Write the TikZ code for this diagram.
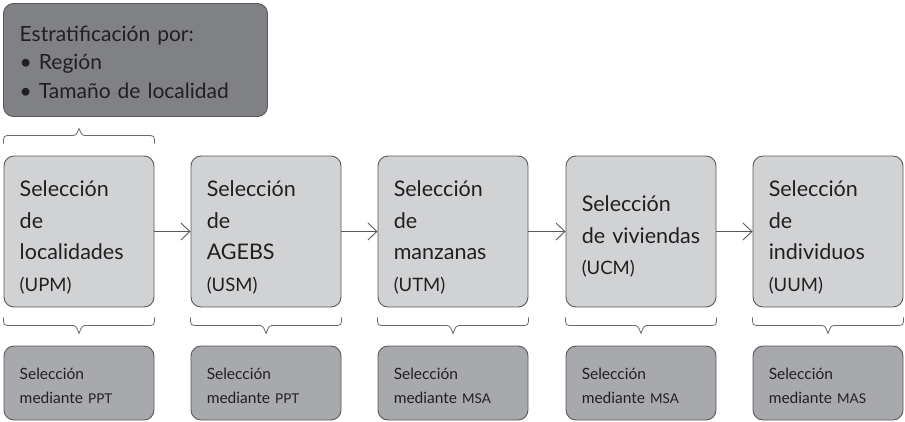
\documentclass[tikz,border=0pt]{standalone}
\usepackage{fontspec}
\setmainfont{Lato}
\usetikzlibrary{arrows.meta,calc}
\definecolor{topfill}{HTML}{808184}
\definecolor{midfill}{HTML}{D1D2D4}
\definecolor{lowfill}{HTML}{A7A9AC}
\definecolor{edge}{HTML}{58595B}
\definecolor{ink}{HTML}{231F20}
\tikzset{
  box/.style={draw=edge, line width=0.9pt, rounded corners=10pt, minimum width=150pt},
  stagebox/.style={box, fill=midfill, minimum height=151pt},
  methodbox/.style={box, fill=lowfill, minimum height=74pt},
  boxtext/.style={text=ink, align=left, inner sep=0pt, text width=132pt, anchor=west},
  stagetext/.style={boxtext, font=\fontsize{21.5}{31.5}\selectfont},
  methodtext/.style={boxtext, font=\fontsize{15.5}{24}\selectfont},
  link/.style={draw=edge, line width=0.9pt, -{Straight Barb[length=9pt,width=17pt,line width=0.9pt]}},
  bracepath/.style={draw=edge!90, line width=0.8pt},
}
\newcommand{\unitsm}[1]{{\fontsize{18.5}{31.5}\selectfont #1}}
\newcommand{\methsm}[1]{{\fontsize{13.5}{24}\selectfont #1}}
\newcommand{\bracedown}[1]{%
  \draw[bracepath] ($(#1.south west)+(0,10)$) .. controls ($(#1.south west)+(0,18)$) .. ($(#1.south west)+(7,18)$)
    -- ($(#1.south)+(-9,18)$) .. controls ($(#1.south)+(-3,18)$) .. ($(#1.south)+(0,26)$)
    .. controls ($(#1.south)+(3,18)$) .. ($(#1.south)+(9,18)$)
    -- ($(#1.south east)+(-7,18)$) .. controls ($(#1.south east)+(0,18)$) .. ($(#1.south east)+(0,10)$);}
\begin{document}
\begin{tikzpicture}[x=1pt,y=-1pt]
\useasboundingbox (0,0) rectangle (905,421);
% top box
\node[box, fill=topfill, minimum width=264pt, minimum height=113pt] (strat) at (135.5,60) {};
\node[boxtext, text width=240pt, font=\fontsize{21}{28.5}\selectfont] (strattext) at ($(strat.west)+(16.5,2)$)
  {Estratificación por:\\ • Región\\ • Tamaño de localidad};
% stage boxes
\node[stagebox] (s1) at (79,231.5) {};
\node[stagebox] (s2) at (266,231.5) {};
\node[stagebox] (s3) at (453,231.5) {};
\node[stagebox] (s4) at (641,231.5) {};
\node[stagebox] (s5) at (828,231.5) {};
\node[stagetext] (t1) at ($(s1.west)+(16,6)$) {Selección\\ de\\ localidades\\ \unitsm{(UPM)}};
\node[stagetext] (t2) at ($(s2.west)+(16,6)$) {Selección\\ de\\ AGEBS\\ \unitsm{(USM)}};
\node[stagetext] (t3) at ($(s3.west)+(16,6)$) {Selección\\ de\\ manzanas\\ \unitsm{(UTM)}};
\node[stagetext] (t4) at ($(s4.west)+(16,5)$) {Selección\\ de viviendas\\ \unitsm{(UCM)}};
\node[stagetext] (t5) at ($(s5.west)+(16,6)$) {Selección\\ de\\ individuos\\ \unitsm{(UUM)}};
% method boxes
\node[methodbox] (m1) at (79,383) {};
\node[methodbox] (m2) at (266,383) {};
\node[methodbox] (m3) at (453,383) {};
\node[methodbox] (m4) at (641,383) {};
\node[methodbox] (m5) at (828,383) {};
\node[methodtext] (u1) at ($(m1.west)+(16,3)$) {Selección\\ mediante \methsm{PPT}};
\node[methodtext] (u2) at ($(m2.west)+(16,3)$) {Selección\\ mediante \methsm{PPT}};
\node[methodtext] (u3) at ($(m3.west)+(16,3)$) {Selección\\ mediante \methsm{MSA}};
\node[methodtext] (u4) at ($(m4.west)+(16,3)$) {Selección\\ mediante \methsm{MSA}};
\node[methodtext] (u5) at ($(m5.west)+(16,3)$) {Selección\\ mediante \methsm{MAS}};
% arrows
\draw[link] (s1.east) -- (s2.west);
\draw[link] (s2.east) -- (s3.west);
\draw[link] (s3.east) -- (s4.west);
\draw[link] (s4.east) -- (s5.west);
% top brace (pointing up)
\draw[bracepath] ($(s1.north west)+(0,-12)$) .. controls ($(s1.north west)+(0,-20)$) .. ($(s1.north west)+(7,-20)$)
  -- ($(s1.north)+(-9,-20)$) .. controls ($(s1.north)+(-3,-20)$) .. ($(s1.north)+(0,-27)$)
  .. controls ($(s1.north)+(3,-20)$) .. ($(s1.north)+(9,-20)$)
  -- ($(s1.north east)+(-7,-20)$) .. controls ($(s1.north east)+(0,-20)$) .. ($(s1.north east)+(0,-12)$);
% bottom braces (pointing down)
\bracedown{s1}
\bracedown{s2}
\bracedown{s3}
\bracedown{s4}
\bracedown{s5}
\end{tikzpicture}
\end{document}
